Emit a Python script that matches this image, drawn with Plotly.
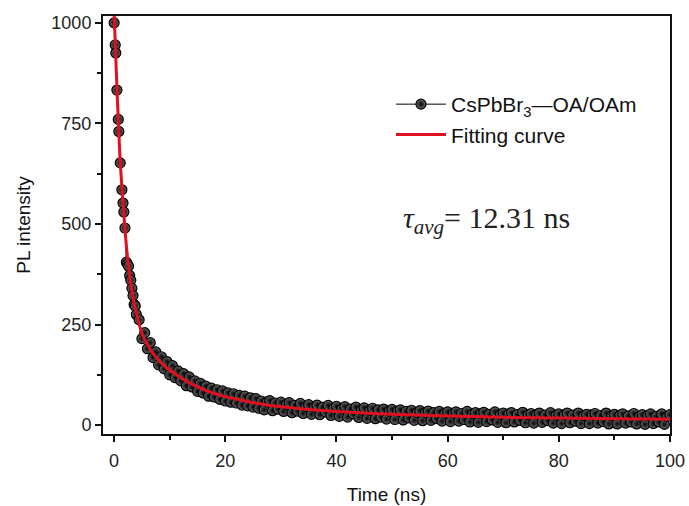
import numpy as np
import plotly.graph_objects as go

t_early = [0.0, 0.2, 0.3, 0.5, 0.75, 0.85, 1.1, 1.4, 1.6, 1.75, 1.95,
           2.2, 2.4, 2.6, 2.8, 3.0, 3.2, 3.4, 3.6, 3.8, 4.0]
pl_early = [1000, 945, 925, 833, 760, 730, 652, 585, 552, 530, 490,
            405, 400, 395, 372, 360, 340, 322, 300, 296, 275]
t_tail = list(np.round(np.arange(4.5, 100.01, 0.5), 2))
pl_tail = [262, 215, 230, 190, 205, 168, 182, 150, 170, 140,
           158, 125, 148, 118, 135, 110, 128, 98, 120, 95,
           110, 84, 104, 80, 97, 72, 92, 70, 88, 64,
           85, 60, 80, 57, 78, 55, 74, 50, 72, 48,
           68, 45,
           66, 42, 60, 38, 58, 61, 36, 55, 40, 57,
           34, 52, 56, 31, 49, 35, 54, 29, 46, 51,
           27, 45, 50, 26, 44, 33, 49, 24, 42, 47,
           22, 41, 46, 20, 40, 28, 45, 19, 38, 43,
           17, 37, 42, 16, 38, 20, 40, 15, 35, 39,
           14, 35, 38, 13, 34, 18, 37, 12, 32, 36,
           11, 32, 35, 12, 31, 16, 34, 10, 30, 33,
           9, 30, 33, 10, 29, 14, 34, 8, 28, 31,
           7, 29, 32, 9, 27, 13, 33, 7, 27, 30,
           6, 28, 31, 8, 26, 12, 32, 6, 26, 29,
           5, 27, 30, 7, 25, 11, 31, 5, 25, 28,
           4, 26, 30, 6, 25, 10, 30, 4, 24, 27,
           4, 26, 29, 5, 24, 9, 30, 3, 23, 27,
           3, 25, 28, 5, 23, 8, 29, 3, 22, 26,
           2, 24, 28, 4, 22, 8, 28, 2, 22, 26]
time_data = t_early + t_tail
pl_data = pl_early + pl_tail

# ---- fitting curve ----
t_fit = [0, 0.5, 1.0, 1.5, 2.0, 2.5, 3.0, 3.5, 4, 5, 6, 7, 8, 9, 10, 12, 14, 16, 18, 20,
         22, 25, 28, 30, 34, 40, 50, 60, 70, 80, 90, 100]
pl_fit = [1025, 840, 680, 570, 478, 405, 352, 310, 280, 228, 200, 178, 162, 148, 137, 118,
          102, 89, 79, 71, 65, 56, 49, 46, 40, 34, 27, 22.5, 19.5, 17.5, 16, 14.5]

x_ticks = [0, 20, 40, 60, 80, 100]
y_ticks = [0, 250, 500, 750, 1000]

fig = go.Figure()
fig.add_trace(go.Scatter(
    x=time_data, y=pl_data, mode="lines+markers",
    name="CsPbBr<sub>3</sub>—OA/OAm",
    line=dict(color="black", width=1),
    marker=dict(size=10, color="#6a6a6a",
                gradient=dict(type="radial", color="#050505"),
                line=dict(color="black", width=1.2)),
))
fig.add_trace(go.Scatter(
    x=t_fit, y=pl_fit, mode="lines", name="Fitting curve",
    line=dict(color="#e01020", width=3, shape="spline"),
))

axis_common = dict(
    showline=True, linecolor="#111", linewidth=2, mirror=True,
    ticks="outside", ticklen=6, tickwidth=1.5, tickcolor="#111",
    showgrid=False, zeroline=False, automargin=False,
    tickfont=dict(family="Liberation Sans, Arial", size=18, color="#222"),
    title_font=dict(family="Liberation Sans, Arial", size=19, color="#111"),
)
fig.update_xaxes(range=[-2, 100], tickvals=x_ticks, title_text="Time (ns)",
                 title_standoff=18, ticklabelstandoff=3,
                 minor=dict(ticks="outside", ticklen=4, tickwidth=1.5,
                            tickcolor="#111", dtick=10, tick0=0),
                 **axis_common)
fig.update_yaxes(range=[-22, 1017], tickvals=y_ticks, title_text="PL intensity",
                 title_standoff=16,
                 minor=dict(ticks="outside", ticklen=4, tickwidth=1.5,
                            tickcolor="#111", dtick=125, tick0=0),
                 **axis_common)

fig.add_annotation(
    x=(401 - 103) / 567, y=(434 - 220) / 418, xref="paper", yref="paper",
    xanchor="left", yanchor="middle",
    text="<i>τ</i><sub><i>avg</i></sub>= 12.31 ns", showarrow=False,
    font=dict(family="Liberation Serif, Times New Roman", size=30, color="#222"),
)

fig.update_layout(
    width=689, height=506,
    margin=dict(l=103, r=19, t=16, b=72),
    paper_bgcolor="white", plot_bgcolor="white",
    legend=dict(x=(391 - 103) / 567, y=(434 - 84) / 418, xanchor="left", yanchor="top",
                bgcolor="rgba(0,0,0,0)", borderwidth=0, itemwidth=50,
                font=dict(family="Liberation Sans, Arial", size=21, color="#111"),
                tracegroupgap=2),
)

fig.write_html("out.html")
